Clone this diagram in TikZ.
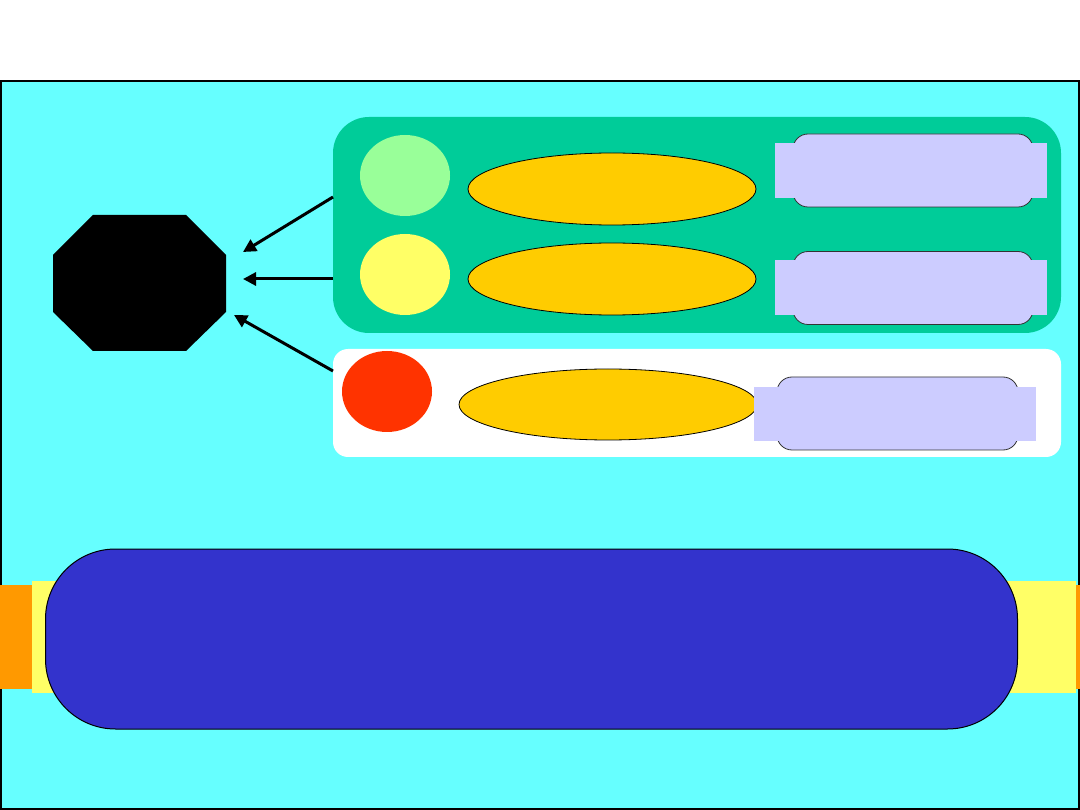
\documentclass[tikz,border=0pt]{standalone}
\usetikzlibrary{arrows.meta,shapes.geometric}
\definecolor{cyanbg}{HTML}{66FFFF}
\definecolor{teal}{HTML}{00CC99}
\definecolor{lgreen}{HTML}{99FF99}
\definecolor{lyellow}{HTML}{FFFF66}
\definecolor{redc}{HTML}{FF3300}
\definecolor{gold}{HTML}{FFCC00}
\definecolor{lav}{HTML}{CCCCFF}
\definecolor{blueb}{HTML}{3333CC}
\definecolor{orangeb}{HTML}{FF9900}
\begin{document}
\begin{tikzpicture}[x=1pt,y=-1pt,
  dot/.style={ellipse,inner sep=0pt,minimum width=90pt,minimum height=81pt},
  oval/.style={ellipse,draw=black,line width=0.8pt,fill=gold,inner sep=0pt,minimum height=72pt},
  tagbox/.style={draw=black!80,line width=0.8pt,fill=lav,rounded corners=15pt,inner sep=0pt,minimum height=73pt},
  tagbar/.style={fill=lav,inner sep=0pt,minimum height=55pt},
  arr/.style={line width=3pt,-{Triangle[length=13pt,width=13pt]}}]
\useasboundingbox (0,0) rectangle (1080,810);
\fill[white] (0,0) rectangle (1080,810);
\draw[fill=cyanbg,line width=1.5pt] (1,81) rectangle (1079,809);
% panels
\fill[teal,rounded corners=36pt] (333,117) rectangle (1061,333);
\fill[white,rounded corners=15pt] (333,349) rectangle (1061,457);
\coordinate (g) at (333,225);
% row 1
\node[dot,fill=lgreen] (c1) at (405,175.5) {};
\node[oval,minimum width=288pt] (e1) at (612,189) {};
\node[tagbox,minimum width=240pt] (t1) at (913,170.5) {};
\node[tagbar,minimum width=272pt] (b1) at (911,170.5) {};
% row 2
\node[dot,fill=lyellow] (c2) at (405,274.5) {};
\node[oval,minimum width=288pt] (e2) at (612,279) {};
\node[tagbox,minimum width=240pt] (t2) at (913,288) {};
\node[tagbar,minimum width=272pt] (b2) at (911,288) {};
% row 3
\node[dot,fill=redc] (c3) at (387,391.5) {};
\node[oval,minimum width=298pt,minimum height=71pt] (e3) at (608,404.5) {};
\node[tagbox,minimum width=241pt] (t3) at (897.5,413.5) {};
\node[tagbar,minimum width=282pt,minimum height=54pt] (b3) at (895,414) {};
% octagon
\fill[black] (93,215) -- (186,215) -- (226,255) -- (226,312) -- (186,351) -- (93,351) -- (53,312) -- (53,255) -- cycle;
\coordinate (oct) at (139.5,283);
% arrows
\coordinate (s1) at (333,197);
\coordinate (s2) at (333,279);
\coordinate (s3) at (333,371);
\coordinate (h1) at (243,252);
\coordinate (h2) at (243,279);
\coordinate (h3) at (234,315);
\draw[arr] (s1) -- (h1);
\draw[arr] (s2) -- (h2);
\draw[arr] (s3) -- (h3);
% bottom bar
\fill[orangeb] (0,585) rectangle (32,689);
\fill[lyellow] (32,581) rectangle (70,693);
\fill[lyellow] (1000,581) rectangle (1076,693);
\fill[orangeb] (1076,585) rectangle (1080,689);
\node[draw=black,line width=1pt,fill=blueb,rounded corners=70pt,inner sep=0pt,minimum width=972pt,minimum height=180pt] (bar) at (531.5,639) {};
\end{tikzpicture}
\end{document}
